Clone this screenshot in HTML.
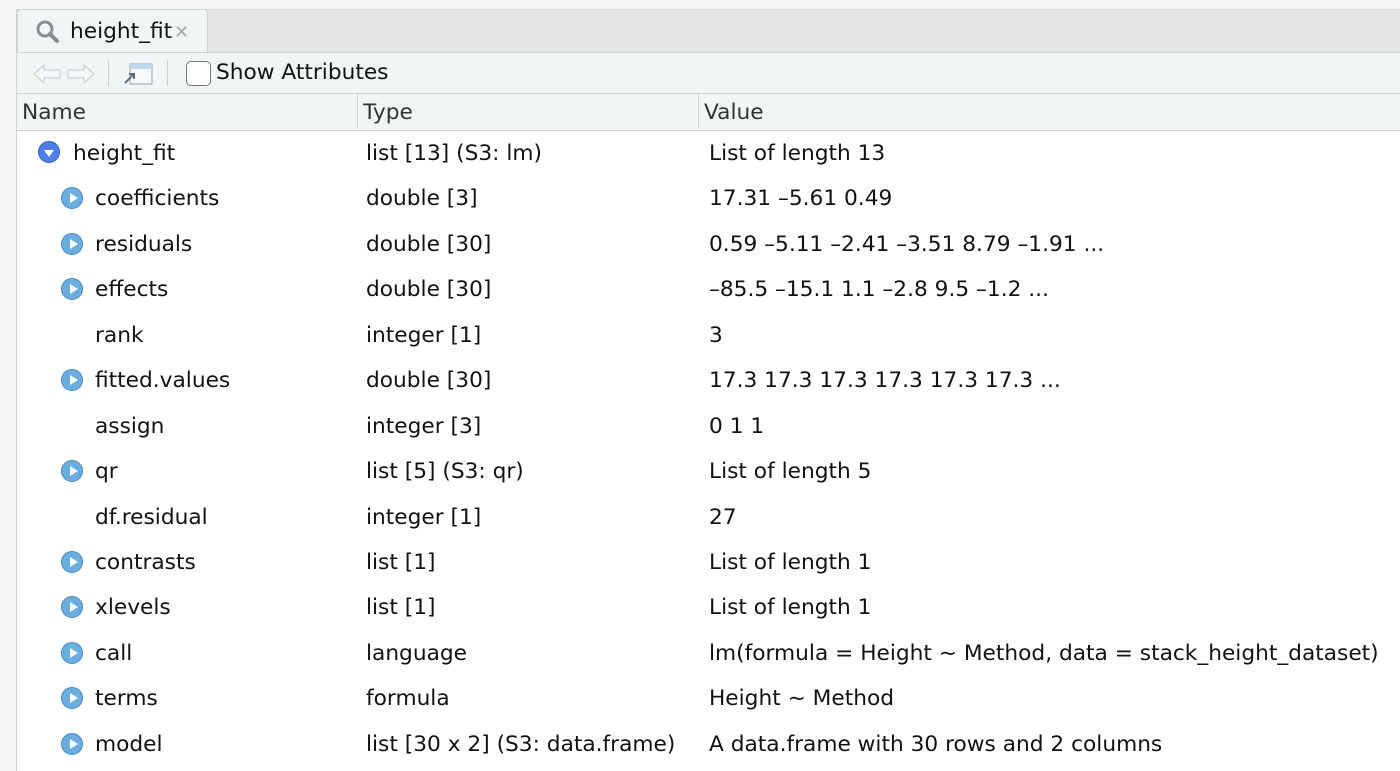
<!DOCTYPE html>
<html><head><style>
body{margin:0;width:1400px;height:771px;overflow:hidden;background:#f5f6f7;font-family:"DejaVu Sans","Liberation Sans",sans-serif;color:#111;position:relative}
.a{position:absolute}
.tabbar{left:16px;top:9px;width:1384px;height:43px;background:#e4e5e6;border-top:1px solid #d6d8d9;border-left:1px solid #d0d4d5}
.tab{left:17px;top:9px;width:189px;height:44px;background:#f1f5f6;border:1px solid #d0d4d5;border-bottom:none;border-radius:4px 4px 0 0}
.tool{left:16px;top:52px;width:1384px;height:41px;background:#f0f6f6;border-left:1px solid #d0d4d5;border-top:1px solid #d0d4d5}
.hdr{left:16px;top:93px;width:1384px;height:36px;background:#f0f6f6;border-top:1px solid #cfd3d4;border-bottom:2px solid #cdd1d2;border-left:1px solid #d0d4d5}
.body{left:16px;top:131px;width:1384px;height:640px;background:#fff;border-left:1px solid #d0d4d5}
.t{position:absolute;font-size:21.7px;white-space:nowrap;line-height:24px;margin-top:1px}
.ic{position:absolute;width:22px;height:22px;border-radius:50%;background:#6aaee0;border:1px solid #4a8ac4;box-sizing:border-box}
.ic:after{content:"";position:absolute;left:8px;top:5px;border-left:8px solid #fff;border-top:5px solid transparent;border-bottom:5px solid transparent}
.ic.d{background:#4f7ee6;border-color:#3560c0}
.ic.d:after{left:5px;top:8px;border-top:7px solid #fff;border-left:5px solid transparent;border-right:5px solid transparent;border-bottom:none}
</style></head><body>
<div class="a tabbar"></div>
<div class="a tab"></div>
<svg class="a" style="left:34px;top:18px" width="28" height="26"><circle cx="11" cy="11" r="7" fill="none" stroke="#8a8e92" stroke-width="3"/><line x1="16" y1="16" x2="23" y2="23" stroke="#8a8e92" stroke-width="4" stroke-linecap="round"/></svg>
<div class="t" style="left:70px;top:19px">height_fit</div>
<div class="t" style="left:174px;top:20px;color:#aaa;font-size:18px">✕</div>
<div class="a tool"></div>
<svg class="a" style="left:32px;top:62px" width="64" height="24"><path d="M2 12 L12 3 V8 H28 V16 H12 V21 Z" fill="#f4f6f7" stroke="#c5c9cc"/><path d="M62 12 L52 3 V8 H36 V16 H52 V21 Z" fill="#f4f6f7" stroke="#c5c9cc"/></svg>
<div class="a" style="left:108px;top:60px;width:1px;height:26px;background:#ccc"></div>
<svg class="a" style="left:122px;top:62px" width="32" height="24"><rect x="8" y="2" width="22" height="20" fill="#f6f8fa" stroke="#9aa2aa"/><rect x="8" y="2" width="22" height="5" fill="#bfd8ef"/><path d="M3 21 L12 12 M7 12 H12 V17" stroke="#5a6e86" stroke-width="2" fill="none"/></svg>
<div class="a" style="left:167px;top:60px;width:1px;height:26px;background:#ccc"></div>
<div class="a" style="left:186px;top:61px;width:23px;height:23px;border:1px solid #777;border-radius:5px;background:#fff"></div>
<div class="t" style="left:216px;top:60px">Show Attributes</div>
<div class="a hdr"></div>
<div class="a" style="left:357px;top:94px;width:1px;height:35px;background:#cfd3d4"></div>
<div class="a" style="left:698px;top:94px;width:1px;height:35px;background:#cfd3d4"></div>
<div class="t" style="left:22px;top:100px;color:#333">Name</div>
<div class="t" style="left:363px;top:100px;color:#333">Type</div>
<div class="t" style="left:704px;top:100px;color:#333">Value</div>
<div class="a body"></div>
<div class="ic d" style="left:38px;top:141px"></div>
<div class="t" style="left:73px;top:141px">height_fit</div><div class="t" style="left:366px;top:141px">list [13] (S3: lm)</div><div class="t" style="left:709px;top:141px">List of length 13</div>
<div class="ic" style="left:61px;top:187px"></div><div class="t" style="left:95px;top:186px">coefficients</div><div class="t" style="left:366px;top:186px">double [3]</div><div class="t" style="left:709px;top:186px">17.31 –5.61 0.49</div>
<div class="ic" style="left:61px;top:233px"></div><div class="t" style="left:95px;top:232px">residuals</div><div class="t" style="left:366px;top:232px">double [30]</div><div class="t" style="left:709px;top:232px">0.59 –5.11 –2.41 –3.51 8.79 –1.91 ...</div>
<div class="ic" style="left:61px;top:278px"></div><div class="t" style="left:95px;top:277px">effects</div><div class="t" style="left:366px;top:277px">double [30]</div><div class="t" style="left:709px;top:277px">–85.5 –15.1 1.1 –2.8 9.5 –1.2 ...</div>
<div class="t" style="left:95px;top:323px">rank</div><div class="t" style="left:366px;top:323px">integer [1]</div><div class="t" style="left:709px;top:323px">3</div>
<div class="ic" style="left:61px;top:369px"></div><div class="t" style="left:95px;top:368px">fitted.values</div><div class="t" style="left:366px;top:368px">double [30]</div><div class="t" style="left:709px;top:368px">17.3 17.3 17.3 17.3 17.3 17.3 ...</div>
<div class="t" style="left:95px;top:414px">assign</div><div class="t" style="left:366px;top:414px">integer [3]</div><div class="t" style="left:709px;top:414px">0 1 1</div>
<div class="ic" style="left:61px;top:460px"></div><div class="t" style="left:95px;top:459px">qr</div><div class="t" style="left:366px;top:459px">list [5] (S3: qr)</div><div class="t" style="left:709px;top:459px">List of length 5</div>
<div class="t" style="left:95px;top:505px">df.residual</div><div class="t" style="left:366px;top:505px">integer [1]</div><div class="t" style="left:709px;top:505px">27</div>
<div class="ic" style="left:61px;top:551px"></div><div class="t" style="left:95px;top:550px">contrasts</div><div class="t" style="left:366px;top:550px">list [1]</div><div class="t" style="left:709px;top:550px">List of length 1</div>
<div class="ic" style="left:61px;top:596px"></div><div class="t" style="left:95px;top:595px">xlevels</div><div class="t" style="left:366px;top:595px">list [1]</div><div class="t" style="left:709px;top:595px">List of length 1</div>
<div class="ic" style="left:61px;top:642px"></div><div class="t" style="left:95px;top:641px">call</div><div class="t" style="left:366px;top:641px">language</div><div class="t" style="left:709px;top:641px">lm(formula = Height ~ Method, data = stack_height_dataset)</div>
<div class="ic" style="left:61px;top:687px"></div><div class="t" style="left:95px;top:686px">terms</div><div class="t" style="left:366px;top:686px">formula</div><div class="t" style="left:709px;top:686px">Height ~ Method</div>
<div class="ic" style="left:61px;top:733px"></div><div class="t" style="left:95px;top:732px">model</div><div class="t" style="left:366px;top:732px">list [30 x 2] (S3: data.frame)</div><div class="t" style="left:709px;top:732px">A data.frame with 30 rows and 2 columns</div>
</body></html>
